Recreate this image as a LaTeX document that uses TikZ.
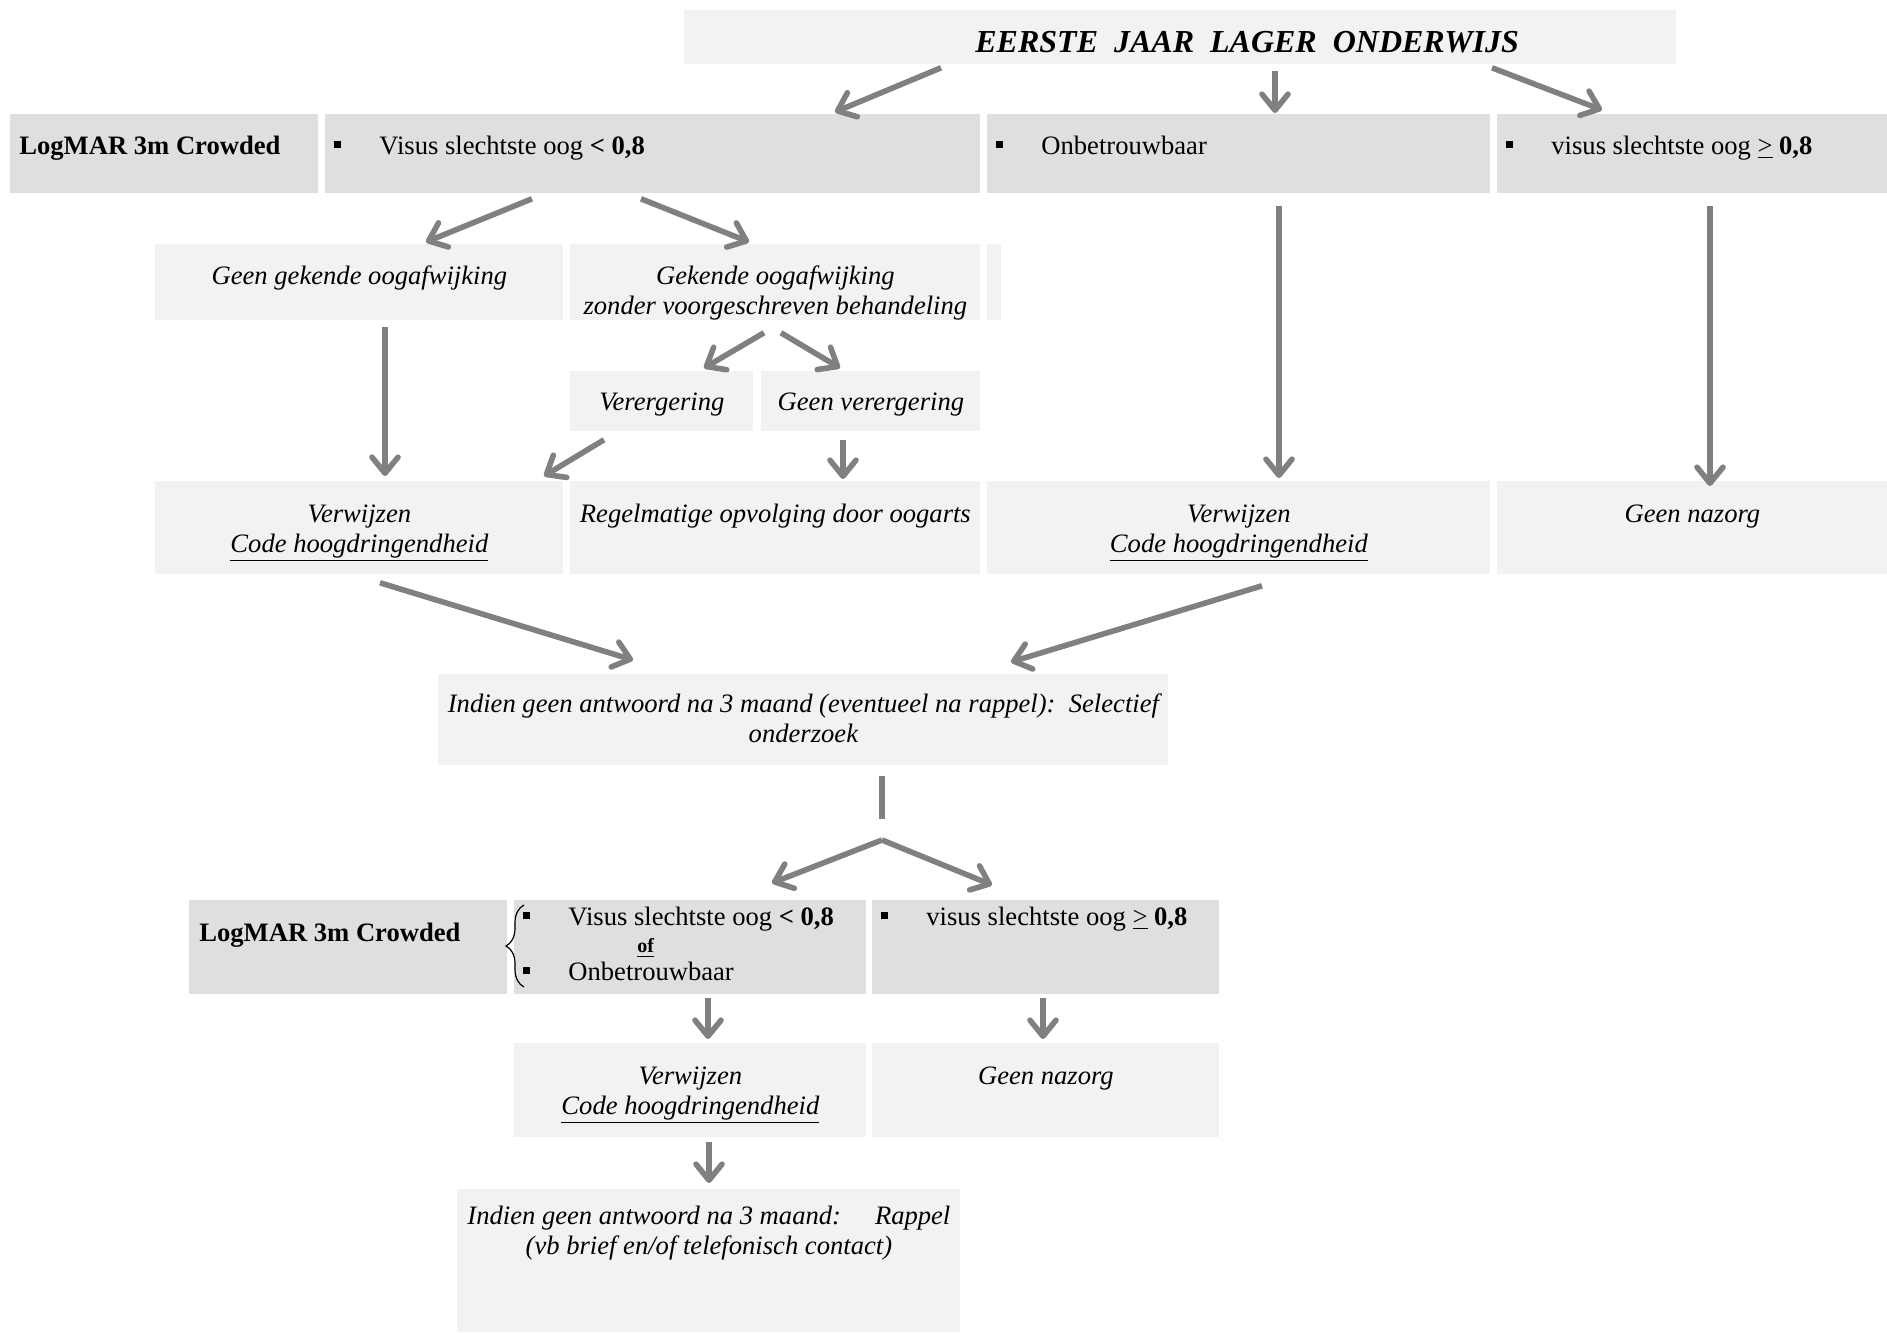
\documentclass[tikz,border=0pt]{standalone}
\usepackage{fontspec}
\setmainfont{Liberation Serif}
\usepackage{tikz}
\usetikzlibrary{arrows.meta,decorations.pathreplacing}
\definecolor{celldark}{HTML}{DFDFDF}
\definecolor{celllite}{HTML}{F2F2F2}
\definecolor{arrowgray}{HTML}{808080}
\tikzstyle{cell} = [inner sep=0pt, anchor=north west, font={\fontsize{13.3}{15}\selectfont}]
\tikzstyle{dark} = [cell, fill=celldark]
\tikzstyle{lite} = [cell, fill=celllite]
\tikzstyle{arr} = [draw=arrowgray, line width=2.8pt, -{Straight Barb[length=8pt,width=13pt,round]}]
\tikzstyle{plain} = [draw=arrowgray, line width=2.8pt]
\newcommand{\celltext}[5][\centering]{\parbox[c][#3][t]{#2}{#1\rule{0pt}{#4}#5}}
\newcommand{\blt}{\hspace*{4.5pt}\makebox[22.5pt][l]{\rule[3pt]{3.5pt}{3.5pt}}}
\begin{document}
\begin{tikzpicture}[x=0.5pt,y=-0.5pt]
    \useasboundingbox (0,0) rectangle (1887,1333);
    \node[lite](hdr) at (684,10){\celltext[\raggedright]{496pt}{27pt}{21pt}{\hspace*{145.5pt}{\fontsize{16}{17}\selectfont\bfseries\itshape EERSTE\ \ JAAR\ \ LAGER\ \ ONDERWIJS}}};
    \node[dark](logA) at (10,114){\celltext[\raggedright]{154pt}{39.5pt}{20pt}{\hspace*{4.5pt}\textbf{LogMAR 3m Crowded}}};
    \node[dark](visA) at (325,114){\celltext[\raggedright]{327.5pt}{39.5pt}{20pt}{\blt Visus slechtste oog \textbf{< 0,8}}};
    \node[dark](onbA) at (987,114){\celltext[\raggedright]{251.5pt}{39.5pt}{20pt}{\blt Onbetrouwbaar}};
    \node[dark](goedA) at (1497,114){\celltext[\raggedright]{195pt}{39.5pt}{20pt}{\blt visus slechtste oog \underline{>} \textbf{0,8}}};
    \node[lite](geen) at (155,244){\celltext{204pt}{38pt}{20pt}{\itshape Geen gekende oogafwijking}};
    \node[lite](gekend) at (570,244){\celltext{205pt}{38pt}{20pt}{\itshape Gekende oogafwijking\\zonder voorgeschreven behandeling}};
    \node[lite,minimum width=7pt,minimum height=38pt](gap) at (987,244){};
    \node[lite](verer) at (570,371){\celltext{91.5pt}{30pt}{19.5pt}{\itshape Verergering}};
    \node[lite](geenver) at (761,371){\celltext{109.5pt}{30pt}{19.5pt}{\itshape Geen verergering}};
    \node[lite](verwA) at (155,481){\celltext{204pt}{46.5pt}{20.5pt}{\itshape Verwijzen\\\underline{Code hoogdringendheid}}};
    \node[lite](regel) at (570,481){\celltext{205pt}{46.5pt}{20.5pt}{\itshape Regelmatige opvolging door oogarts}};
    \node[lite](verwB) at (987,481){\celltext{251.5pt}{46.5pt}{20.5pt}{\itshape Verwijzen\\\underline{Code hoogdringendheid}}};
    \node[lite](nazorgA) at (1497,481){\celltext{195pt}{46.5pt}{20.5pt}{\itshape Geen nazorg}};
    \node[lite](indien) at (438,674){\celltext{365pt}{45.5pt}{19pt}{\itshape Indien geen antwoord na 3 maand (eventueel na rappel):\ \ Selectief\\onderzoek}};
    \node[dark](logB) at (189,900){\celltext[\raggedright]{159pt}{47pt}{20.5pt}{\hspace*{5pt}\textbf{LogMAR 3m Crowded}}};
    \node[dark](visB) at (514,900){\celltext[\raggedright]{176pt}{47pt}{12.5pt}{\fontsize{13.3}{13.75}\selectfont\blt Visus slechtste oog \textbf{< 0,8}\\\hspace*{61.5pt}{\fontsize{10}{12}\selectfont\textbf{\underline{of}}}\\\blt Onbetrouwbaar}};
    \node[dark](goedB) at (872,900){\celltext[\raggedright]{173.5pt}{47pt}{12.5pt}{\blt visus slechtste oog \underline{>} \textbf{0,8}}};
    \node[lite](verwC) at (514,1043){\celltext{176pt}{47pt}{20.5pt}{\itshape Verwijzen\\\underline{Code hoogdringendheid}}};
    \node[lite](nazorgB) at (872,1043){\celltext{173.5pt}{47pt}{20.5pt}{\itshape Geen nazorg}};
    \node[lite](rappel) at (457,1189){\celltext{251.5pt}{71.5pt}{17.5pt}{\itshape Indien geen antwoord na 3 maand:\hspace{17pt}Rappel\\(vb brief en/of telefonisch contact)}};
    \coordinate (stem) at (882,819);
    \coordinate (fork) at (882,840);
    \draw[decorate,decoration={brace,amplitude=9pt},line width=0.6pt] (524,987)--(524,905);
    \draw[arr]([shift={(257,3)}]hdr.south west)--([shift={(510,-2)}]visA.north west);
    \draw[arr]([shift={(591,6)}]hdr.south west)--([shift={(288,-1)}]onbA.north west);
    \draw[arr]([shift={(808,3)}]hdr.south west)--([shift={(105,-4)}]goedA.north west);
    \draw[arr]([shift={(207,5)}]visA.south west)--([shift={(271,-2)}]geen.north west);
    \draw[arr]([shift={(316,5)}]visA.south west)--([shift={(179,-2)}]gekend.north west);
    \draw[arr]([shift={(194,12)}]gekend.south west)--([shift={(134,-3)}]verer.north west);
    \draw[arr]([shift={(211,12)}]gekend.south west)--([shift={(79,-3)}]geenver.north west);
    \draw[arr]([shift={(230,6)}]geen.south west)--([shift={(230,-5)}]verwA.north west);
    \draw[arr]([shift={(34,8)}]verer.south west)--([shift={(389,-5)}]verwA.north west);
    \draw[arr]([shift={(82,8)}]geenver.south west)--([shift={(273,-2)}]regel.north west);
    \draw[arr]([shift={(292,12)}]onbA.south west)--([shift={(292,-3)}]verwB.north west);
    \draw[arr]([shift={(213,12)}]goedA.south west)--([shift={(213,5)}]nazorgA.north west);
    \draw[arr]([shift={(225,8)}]verwA.south west)--([shift={(195,-14)}]indien.north west);
    \draw[arr]([shift={(275,11)}]verwB.south west)--([shift={(573,-12)}]indien.north west);
    \draw[plain]([shift={(444,10)}]indien.south west)--(stem);
    \draw[arr](fork)--([shift={(258,-17)}]visB.north west);
    \draw[arr](fork)--([shift={(120,-15)}]goedB.north west);
    \draw[arr]([shift={(194,3)}]visB.south west)--([shift={(194,-4)}]verwC.north west);
    \draw[arr]([shift={(171,3)}]goedB.south west)--([shift={(171,-4)}]nazorgB.north west);
    \draw[arr]([shift={(195,4)}]verwC.south west)--([shift={(252,-6)}]rappel.north west);
  \end{tikzpicture}
\end{document}
